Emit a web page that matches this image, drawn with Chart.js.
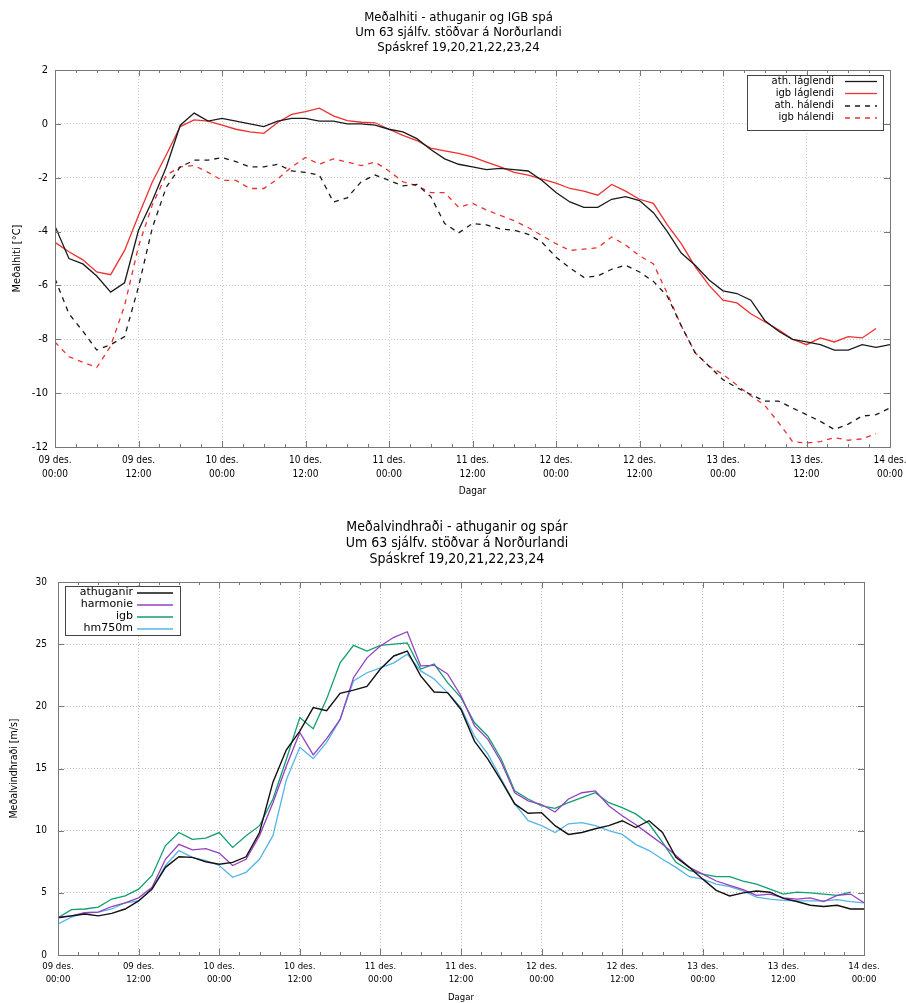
<!DOCTYPE html>
<html>
<head>
<meta charset="utf-8">
<script src="https://cdn.jsdelivr.net/npm/chart.js@4.4.1/dist/chart.umd.min.js"></script>
<style>
html, body { margin: 0; padding: 0; background: #fff; }
#wrap { position: relative; width: 906px; height: 1003px; }
canvas { position: absolute; left: 0; }
#temp { top: 0; }
#wind { top: 500px; }
</style>
</head>
<body>
<div id="wrap">
  <canvas id="temp" width="906" height="500"></canvas>
  <canvas id="wind" width="906" height="503"></canvas>
</div>
<script>
// Hours from 09 des. 00:00
const hours = [0, 2, 4, 6, 8, 10, 12, 14, 16, 18, 20, 22, 24, 26, 28, 30, 32, 34, 36, 38, 40,
  42, 44, 46, 48, 50, 52, 54, 56, 58, 60, 62, 64, 66, 68, 70, 72, 74, 76, 78, 80,
  82, 84, 86, 88, 90, 92, 94, 96, 98, 100, 102, 104, 106, 108, 110, 112, 114, 116, 118, 120];

const dayTicks = [
  ['09 des.', '00:00'], ['09 des.', '12:00'], ['10 des.', '00:00'], ['10 des.', '12:00'],
  ['11 des.', '00:00'], ['11 des.', '12:00'], ['12 des.', '00:00'], ['12 des.', '12:00'],
  ['13 des.', '00:00'], ['13 des.', '12:00'], ['14 des.', '00:00']
];

const tempTitle = ['Meðalhiti - athuganir og IGB spá', 'Um 63 sjálfv. stöðvar á Norðurlandi', 'Spáskref 19,20,21,22,23,24'];
const windTitle = ['Meðalvindhraði - athuganir og spár', 'Um 63 sjálfv. stöðvar á Norðurlandi', 'Spáskref 19,20,21,22,23,24'];

// Meðalhiti [°C]
const athLaglendi = [-3.8, -5.0, -5.2, -5.65, -6.25, -5.9, -3.95, -2.85, -1.6, -0.05, 0.4,
  0.1, 0.2, 0.1, 0.0, -0.1, 0.1, 0.2, 0.2, 0.1, 0.1,
  0.0, 0.0, -0.05, -0.2, -0.3, -0.55, -0.95, -1.3, -1.5, -1.6,
  -1.7, -1.65, -1.7, -1.75, -2.1, -2.55, -2.9, -3.1, -3.1, -2.8,
  -2.7, -2.85, -3.3, -4.0, -4.8, -5.25, -5.8, -6.2, -6.3, -6.55,
  -7.3, -7.7, -8.0, -8.1, -8.2, -8.4, -8.4, -8.2, -8.3, -8.2];
const igbLaglendi = [-4.4, -4.75, -5.05, -5.5, -5.6, -4.7, -3.4, -2.15, -1.15, -0.1, 0.15,
  0.1, -0.05, -0.2, -0.3, -0.35, 0.05, 0.35, 0.45, 0.58, 0.3,
  0.12, 0.06, 0.04, -0.2, -0.43, -0.62, -0.9, -1.0, -1.1, -1.23,
  -1.42, -1.6, -1.8, -1.9, -2.05, -2.2, -2.4, -2.5, -2.65, -2.25,
  -2.5, -2.8, -2.95, -3.75, -4.45, -5.3, -6.0, -6.55, -6.65, -7.05,
  -7.35, -7.65, -8.0, -8.2, -7.95, -8.1, -7.9, -7.95, -7.6, null];
const athHalendi = [-5.75, -7.05, -7.7, -8.4, -8.2, -7.9, -6.05, -3.85, -2.35, -1.6, -1.35,
  -1.35, -1.25, -1.4, -1.6, -1.6, -1.5, -1.75, -1.8, -1.9, -2.9,
  -2.75, -2.15, -1.9, -2.1, -2.3, -2.25, -2.7, -3.7, -4.05, -3.7,
  -3.75, -3.9, -3.95, -4.1, -4.4, -4.95, -5.35, -5.7, -5.65, -5.4,
  -5.25, -5.5, -5.85, -6.4, -7.5, -8.5, -9.0, -9.5, -9.8, -10.05,
  -10.3, -10.3, -10.55, -10.8, -11.05, -11.35, -11.15, -10.85, -10.8, -10.55];
const igbHalendi = [-8.1, -8.65, -8.85, -9.05, -8.25, -6.75, -4.55, -3.0, -1.9, -1.6, -1.55,
  -1.8, -2.1, -2.1, -2.4, -2.4, -2.05, -1.6, -1.25, -1.5, -1.3,
  -1.42, -1.55, -1.42, -1.75, -2.15, -2.3, -2.55, -2.55, -3.1, -2.95,
  -3.2, -3.4, -3.6, -3.85, -4.15, -4.45, -4.7, -4.65, -4.6, -4.2,
  -4.5, -4.9, -5.2, -6.3, -7.5, -8.5, -9.0, -9.3, -9.7, -10.1,
  -10.45, -11.1, -11.8, -11.85, -11.8, -11.65, -11.75, -11.7, -11.5, null];

// Meðalvindhraði [m/s]
const athuganir = [3.0, 3.15, 3.3, 3.15, 3.35, 3.7, 4.35, 5.3, 7.05, 7.9, 7.85,
  7.5, 7.3, 7.45, 7.9, 9.85, 13.9, 16.5, 18.0, 19.9, 19.65,
  21.05, 21.3, 21.6, 23.0, 24.05, 24.45, 22.45, 21.15, 21.1, 19.75,
  17.2, 15.75, 14.0, 12.15, 11.4, 11.45, 10.4, 9.7, 9.85, 10.15,
  10.4, 10.8, 10.25, 10.8, 9.85, 7.85, 7.05, 6.1, 5.2, 4.75,
  5.0, 5.15, 5.05, 4.55, 4.3, 4.0, 3.9, 4.0, 3.7, 3.7];
const harmonie = [3.05, 3.15, 3.4, 3.45, 3.9, 4.2, 4.6, 5.45, 7.7, 8.9, 8.45,
  8.55, 8.2, 7.2, 7.7, 9.6, 12.25, 15.2, 17.9, 16.1, 17.4,
  18.95, 22.3, 23.9, 24.85, 25.55, 26.0, 23.25, 23.3, 22.6, 20.85,
  18.45, 17.35, 15.5, 13.05, 12.4, 12.1, 11.5, 12.55, 13.05, 13.2,
  12.0, 11.2, 10.5, 9.7, 8.9, 8.0, 7.05, 6.5, 5.95, 5.6,
  5.25, 4.8, 4.9, 4.6, 4.5, 4.6, 4.3, 4.8, 4.9, 4.2];
const igb = [3.0, 3.65, 3.7, 3.85, 4.5, 4.75, 5.3, 6.4, 8.8, 9.85, 9.3,
  9.4, 9.85, 8.65, 9.6, 10.4, 12.55, 15.75, 19.1, 18.2, 20.6,
  23.5, 24.9, 24.45, 24.9, 25.0, 25.1, 23.0, 23.4, 21.9, 20.7,
  18.7, 17.6, 15.75, 13.2, 12.55, 12.0, 11.8, 12.25, 12.65, 13.05,
  12.25, 11.85, 11.35, 10.55, 9.05, 7.45, 6.8, 6.5, 6.3, 6.3,
  5.95, 5.7, 5.3, 4.9, 5.05, 5.0, 4.9, 4.8, 5.05, null];
const hm750m = [2.5, 3.05, 3.4, 3.45, 3.7, 4.2, 4.35, 5.3, 7.2, 8.4, 7.85,
  7.6, 7.2, 6.25, 6.65, 7.7, 9.6, 14.1, 16.7, 15.8, 17.1,
  18.95, 22.05, 22.7, 23.1, 23.5, 24.2, 22.85, 22.2, 21.1, 19.9,
  17.6, 16.15, 14.15, 12.15, 10.8, 10.4, 9.85, 10.55, 10.65, 10.4,
  10.0, 9.7, 8.9, 8.4, 7.7, 7.05, 6.3, 6.1, 5.7, 5.5,
  5.15, 4.65, 4.5, 4.4, 4.35, 4.35, 4.35, 4.45, 4.3, 4.2];

const cond = "'DejaVu Sans Condensed', 'DejaVu Sans', sans-serif";
const regular = "'DejaVu Sans', sans-serif";

const pts = arr => hours.map((h, i) => ({ x: h, y: arr[i] }));

function line(label, arr, color, width, dash) {
  return {
    label: label,
    data: pts(arr),
    borderColor: color,
    borderWidth: width,
    borderDash: dash || [],
    pointRadius: 0,
    fill: false,
    tension: 0
  };
}

// gnuplot style border with inward tick marks
const frame = {
  id: 'frame',
  afterDatasetsDraw(chart, args, o) {
    const { ctx, chartArea: a, scales: { x, y } } = chart;
    ctx.save();
    ctx.strokeStyle = o.color;
    ctx.lineWidth = 1;
    ctx.beginPath();
    for (let h = 0; h <= 120; h += 3) {
      const px = Math.round(x.getPixelForValue(h)) + 0.5;
      const len = h % 12 === 0 ? 6 : 3;
      ctx.moveTo(px, a.bottom); ctx.lineTo(px, a.bottom - len);
      ctx.moveTo(px, a.top); ctx.lineTo(px, a.top + len);
    }
    y.ticks.forEach(t => {
      const py = Math.round(y.getPixelForValue(t.value)) + 0.5;
      ctx.moveTo(a.left, py); ctx.lineTo(a.left + 6, py);
      ctx.moveTo(a.right, py); ctx.lineTo(a.right - 6, py);
    });
    ctx.stroke();
    ctx.strokeRect(Math.round(a.left) + 0.5, Math.round(a.top) + 0.5, Math.round(a.width), Math.round(a.height));
    ctx.restore();
  }
};

// key box: text on the left, line sample on the right
const keyBox = {
  id: 'keyBox',
  afterDraw(chart, args, o) {
    const ctx = chart.ctx;
    ctx.save();
    ctx.fillStyle = '#fff';
    ctx.fillRect(o.x, o.y, o.w, o.h);
    ctx.strokeStyle = '#444';
    ctx.lineWidth = 1;
    ctx.strokeRect(o.x + 0.5, o.y + 0.5, o.w, o.h);
    ctx.font = o.font;
    ctx.textAlign = 'right';
    ctx.textBaseline = 'middle';
    chart.data.datasets.forEach((ds, i) => {
      const ry = o.rowY[i];
      ctx.fillStyle = '#000';
      ctx.fillText(ds.label, o.textX, ry);
      ctx.strokeStyle = ds.borderColor;
      ctx.lineWidth = ds.borderWidth;
      ctx.setLineDash(ds.borderDash);
      ctx.beginPath();
      ctx.moveTo(o.lineX1, ry + 0.5);
      ctx.lineTo(o.lineX2, ry + 0.5);
      ctx.stroke();
      ctx.setLineDash([]);
    });
    ctx.restore();
  }
};

function makeChart(id, cfg) {
  return new Chart(document.getElementById(id), {
    type: 'line',
    data: { datasets: cfg.datasets },
    plugins: [frame, keyBox],
    options: {
      responsive: false,
      animation: false,
      devicePixelRatio: 1,
      layout: { padding: { left: cfg.padLeft, right: 0, top: 0, bottom: 0 } },
      plugins: {
        legend: { display: false },
        tooltip: { enabled: false },
        title: {
          display: true,
          text: cfg.title,
          color: '#000',
          font: { family: cond, size: cfg.titleSize, weight: 'normal', lineHeight: cfg.titleLH },
          padding: { top: cfg.titleTop, bottom: cfg.titleBottom }
        },
        frame: { color: '#777' },
        keyBox: cfg.key
      },
      scales: {
        x: {
          type: 'linear',
          min: 0,
          max: 120,
          ticks: {
            stepSize: 12,
            autoSkip: false,
            maxRotation: 0,
            padding: cfg.xPad,
            color: '#000',
            font: { family: cond, size: cfg.xFont, lineHeight: 1.4 },
            callback: v => dayTicks[v / 12]
          },
          grid: { color: cfg.gridColor, drawTicks: false },
          border: { display: false, dash: [1, 2] },
          title: {
            display: true,
            text: 'Dagar',
            color: '#000',
            font: { family: cond, size: cfg.xFont, lineHeight: 1.2 },
            padding: { top: 0, bottom: cfg.xTitleBottom }
          },
          afterFit(s) { s.height = cfg.xHeight; s.paddingRight = cfg.padRight; s.paddingLeft = 0; }
        },
        y: {
          min: cfg.yMin,
          max: cfg.yMax,
          ticks: {
            stepSize: cfg.yStep,
            padding: cfg.yPad,
            color: '#000',
            font: { family: cond, size: cfg.yFont }
          },
          grid: { color: cfg.gridColor, drawTicks: false },
          border: { display: false, dash: [1, 2] },
          title: {
            display: true,
            text: cfg.yTitle,
            color: '#000',
            font: { family: cond, size: cfg.yTitleFont, lineHeight: 1.2 },
            padding: { top: 0, bottom: 0 }
          },
          afterFit(s) { s.width = cfg.yWidth; }
        }
      }
    }
  });
}

makeChart('temp', {
  datasets: [
    line('ath. láglendi', athLaglendi, '#1a1a1a', 1.3),
    line('igb láglendi', igbLaglendi, '#ee3030', 1.3),
    line('ath. hálendi', athHalendi, '#1a1a1a', 1.3, [5, 5]),
    line('igb hálendi', igbHalendi, '#ee3030', 1.3, [5, 5])
  ],
  title: tempTitle,
  titleSize: 13,
  titleLH: 15 / 13,
  titleTop: 10.5,
  titleBottom: 14.5,
  padLeft: 11,
  padRight: 16,
  yWidth: 44,
  yPad: 7,
  yFont: 11,
  yTitleFont: 11,
  yMin: -12, yMax: 2, yStep: 2,
  yTitle: 'Meðalhiti [°C]',
  gridColor: '#cccccc',
  xHeight: 53,
  xPad: 6,
  xFont: 10,
  xTitleBottom: 3,
  key: { x: 747, y: 75, w: 136, h: 55, textX: 834, lineX1: 845, lineX2: 877,
    rowY: [81, 93, 105.5, 117.5], font: '10px ' + regular }
});

makeChart('wind', {
  datasets: [
    line('athuganir', athuganir, '#111111', 1.4),
    line('harmonie', harmonie, '#9440c0', 1.3),
    line('igb', igb, '#109e70', 1.3),
    line('hm750m', hm750m, '#56b4e9', 1.3)
  ],
  title: windTitle,
  titleSize: 14,
  titleLH: 16 / 14,
  titleTop: 19,
  titleBottom: 15,
  padLeft: 8,
  padRight: 42,
  yWidth: 50,
  yPad: 11,
  yFont: 10,
  yTitleFont: 10.5,
  yMin: 0, yMax: 30, yStep: 5,
  yTitle: 'Meðalvindhraði [m/s]',
  gridColor: '#bfbfbf',
  xHeight: 48,
  xPad: 5,
  xFont: 9.5,
  xTitleBottom: 0,
  key: { x: 65, y: 86, w: 115, h: 49, textX: 133, lineX1: 137, lineX2: 173,
    rowY: [92.5, 104.5, 116.5, 128.5], font: '11px ' + regular }
});
</script>
</body>
</html>
